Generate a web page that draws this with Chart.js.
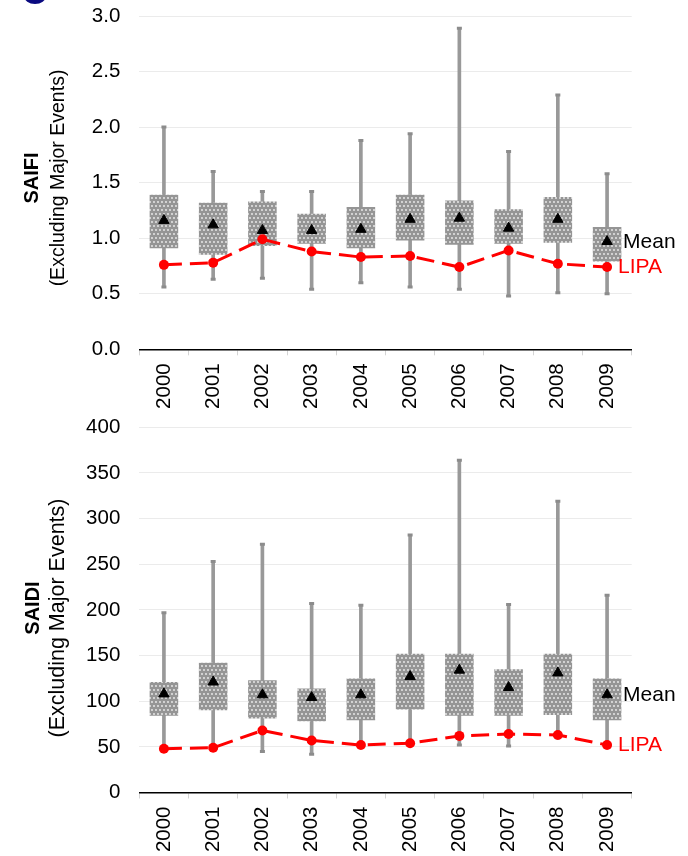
<!DOCTYPE html>
<html><head><meta charset="utf-8">
<script src="https://cdn.jsdelivr.net/npm/chart.js@4/dist/chart.umd.min.js"></script>
<style>
html,body{margin:0;padding:0;background:#fff;width:688px;height:856px;overflow:hidden;position:relative}
#dot{position:absolute;left:24px;top:-12px;width:22px;height:16px;border-radius:50%;background:#0a0a80}
#c1{position:absolute;left:0;top:0}
#c2{position:absolute;left:0;top:400px}
</style></head><body>
<div id="dot"></div>
<canvas id="c1" width="688" height="420"></canvas>
<canvas id="c2" width="688" height="456"></canvas>
<script>
// ---- data ----
const years = ['2000','2001','2002','2003','2004','2005','2006','2007','2008','2009'];

const saifiMin  = [0.56,0.63,0.64,0.54,0.60,0.56,0.54,0.48,0.51,0.50];
const saifiQ1   = [0.91,0.85,0.93,0.95,0.91,0.98,0.94,0.95,0.96,0.79];
const saifiQ3   = [1.39,1.32,1.33,1.22,1.28,1.39,1.34,1.26,1.37,1.10];
const saifiMax  = [2.00,1.60,1.42,1.42,1.88,1.94,2.89,1.78,2.29,1.58];
const saifiMean = [1.16,1.12,1.07,1.07,1.08,1.17,1.18,1.09,1.17,0.97];
const saifiLipa = [0.76,0.78,0.99,0.88,0.83,0.84,0.74,0.89,0.77,0.74];
const saifiTicks = [0,0.5,1.0,1.5,2.0,2.5,3.0];

const saidiMin  = [47,48,45,42,50,52,52,51,60,50];
const saidiQ1   = [84,90,81,78,79,91,84,84,85,79];
const saidiQ3   = [121,142,123,114,125,152,152,135,152,125];
const saidiMax  = [197,253,272,207,205,282,364,206,319,216];
const saidiMean = [108,121,107,104,107,127,134,115,131,107];
const saidiLipa = [48,49,68,57,52,54,62,64,63,52];
const saidiTicks = [0,50,100,150,200,250,300,350,400];

const FONT = '"Liberation Sans", Arial, sans-serif';

function makePattern(){
  const c = document.createElement('canvas'); c.width = 8; c.height = 8;
  const x = c.getContext('2d');
  x.fillStyle = '#959595'; x.fillRect(0,0,8,8);
  x.fillStyle = 'rgba(255,255,255,0.85)';
  [[2,2],[6,2],[0,6],[4,6],[8,6]].forEach(p=>{ x.beginPath(); x.arc(p[0],p[1],0.9,0,Math.PI*2); x.fill(); });
  return x.createPattern(c,'repeat');
}

const txtPlugin = {
  id:'txt',
  afterDraw(chart, args, o){
    const ctx = chart.ctx;
    ctx.save();
    ctx.textAlign='center'; ctx.textBaseline='middle';
    ctx.fillStyle='#000';
    ctx.save(); ctx.translate(o.x1, o.y1); ctx.rotate(-Math.PI/2);
    ctx.font = 'bold ' + o.f1 + 'px ' + FONT; ctx.fillText(o.title, 0, 0); ctx.restore();
    ctx.save(); ctx.translate(o.x2, o.y2); ctx.rotate(-Math.PI/2);
    ctx.font = o.f2 + 'px ' + FONT; ctx.fillText(o.sub, 0, 0); ctx.restore();
    const xs = chart.scales.x, ys = chart.scales.y, last = years.length-1;
    const px = xs.getPixelForValue(last);
    ctx.textAlign='left';
    ctx.font = '21px ' + FONT;
    ctx.fillStyle = '#000';
    ctx.fillText('Mean', px + 16, ys.getPixelForValue(o.mean[last]) + 0.5);
    ctx.fillStyle = '#ff0000';
    ctx.fillText('LIPA', px + 11, ys.getPixelForValue(o.lipa[last]) + 0.5);
    ctx.restore();
  }
};

function zeroPad(s){ s.paddingTop = 0; s.paddingBottom = 0; s.paddingLeft = 0; s.paddingRight = 0; }

function build(id, mn, q1, q3, mx, mean, lipa, ticks, fmt, padTop, xH, txt){
  const pattern = makePattern();
  return new Chart(document.getElementById(id), {
    type:'bar',
    data:{
      labels: years,
      datasets:[
        {type:'line', data: lipa, borderColor:'#ff0000', borderWidth:3, borderDash:[18,8],
         pointRadius:5, pointBackgroundColor:'#ff0000', pointBorderWidth:0, tension:0, order:1},
        {type:'line', data: mean, showLine:false, pointStyle:'triangle', pointRadius:6,
         pointBackgroundColor:'#000', pointBorderColor:'#000', pointBorderWidth:1, order:2},
        {type:'line', data: mx, showLine:false, pointStyle:'line', pointRadius:2.5,
         pointBorderColor:'#8c8c8c', pointBorderWidth:3, order:3},
        {type:'line', data: mn, showLine:false, pointStyle:'line', pointRadius:2.5,
         pointBorderColor:'#8c8c8c', pointBorderWidth:3, order:3},
        {type:'bar', data: q1.map((v,i)=>[v,q3[i]]), backgroundColor: pattern, borderWidth:0,
         grouped:false, barPercentage:0.58, categoryPercentage:1, order:4},
        {type:'bar', data: mn.map((v,i)=>[v,mx[i]]), backgroundColor:'#999999', borderWidth:0,
         grouped:false, barThickness:3, order:5}
      ]
    },
    options:{
      responsive:false, animation:false, devicePixelRatio:1,
      layout:{padding:{left:0, right:56.3, top:padTop, bottom:0}},
      plugins:{legend:{display:false}, tooltip:{enabled:false}, txt: txt},
      scales:{
        x:{
          offset:true,
          grid:{display:true, drawOnChartArea:false, drawTicks:true, tickLength:6, color:'#d4d4d4', offset:true},
          border:{display:true, color:'#000', width:1.5},
          ticks:{minRotation:90, maxRotation:90, padding:8, color:'#000', font:{family:FONT, size:20.5}},
          afterFit(s){ s.height = xH; zeroPad(s); }
        },
        y:{
          min: ticks[0], max: ticks[ticks.length-1],
          grid:{color:'#ebebeb', lineWidth:1, drawTicks:false},
          border:{display:false},
          ticks:{padding:19, color:'#000', font:{family:FONT, size:20.5}, callback:(v)=>fmt(v)},
          afterBuildTicks(s){ s.ticks = ticks.map(v=>({value:v})); },
          afterFit(s){ s.width = 139.3; zeroPad(s); }
        }
      }
    },
    plugins:[txtPlugin]
  });
}

build('c1', saifiMin, saifiQ1, saifiQ3, saifiMax, saifiMean, saifiLipa, saifiTicks,
  v=>v.toFixed(1), 16, 70.7,
  {title:'SAIFI', sub:'(Excluding Major Events)', x1:32, y1:178, x2:58.5, y2:178, f1:20, f2:19.5,
   mean:saifiMean, lipa:saifiLipa});

build('c2', saidiMin, saidiQ1, saidiQ3, saidiMax, saidiMean, saidiLipa, saidiTicks,
  v=>String(v), 27.3, 63.5,
  {title:'SAIDI', sub:'(Excluding Major Events)', x1:33, y1:208, x2:58.5, y2:218, f1:20, f2:21.5,
   mean:saidiMean, lipa:saidiLipa});
</script>
</body></html>
